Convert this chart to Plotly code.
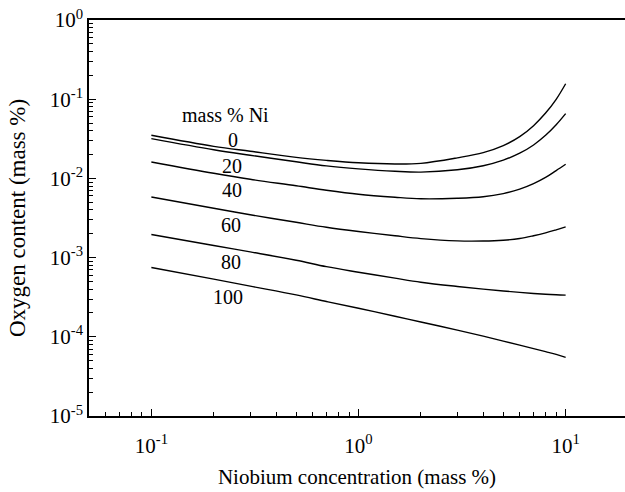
import numpy as np
import plotly.graph_objects as go

# Niobium concentration (mass %)
nb = [0.1, 0.2, 0.3, 0.5, 0.7, 1.0, 1.5, 2.0, 3.0, 4.0, 5.0, 6.0, 7.0, 8.0, 9.0, 10.0]

# Oxygen content (mass %) for each Ni content
o_ni0 = [0.0350, 0.0254, 0.0220, 0.01845, 0.0169, 0.01573, 0.0152, 0.0155, 0.01819, 0.02115, 0.02593,
         0.03367, 0.04634, 0.06683, 0.0997, 0.1568]
o_ni20 = [0.0318, 0.0230, 0.0196, 0.0162, 0.0144, 0.0132, 0.0123, 0.0120, 0.01284, 0.01446, 0.01702,
          0.02080, 0.02644, 0.03496, 0.04754, 0.06566]
o_ni40 = [0.0161, 0.0116, 0.00975, 0.00807, 0.00708, 0.0063, 0.00578, 0.00553, 0.00561, 0.00586, 0.00643,
          0.00731, 0.00858, 0.01027, 0.01254, 0.01507]
o_ni60 = [0.00582, 0.00420, 0.00348, 0.00279, 0.002415, 0.002133, 0.001884, 0.001737, 0.001625, 0.001620,
          0.001657, 0.001741, 0.001889, 0.002055, 0.002243, 0.00244]
o_ni80 = [0.00196, 0.00142, 0.00118, 0.000927, 0.000768, 0.000654, 0.000550, 0.000489, 0.000432, 0.000400,
          0.000379, 0.000364, 0.000352, 0.000344, 0.000339, 0.000336]
o_ni100 = [0.000750, 0.000534, 0.000436, 0.000338, 0.000279, 0.000229, 0.000182, 0.000154, 0.0001213,
           0.0001018, 0.0000883, 0.0000786, 0.0000710, 0.0000649, 0.0000600, 0.0000550]

series = [o_ni0, o_ni20, o_ni40, o_ni60, o_ni80, o_ni100]
ni_labels = ["0", "20", "40", "60", "80", "100"]

# label positions (data coordinates)
label_x = [0.247, 0.245, 0.245, 0.243, 0.243, 0.234]
label_y = [0.0302, 0.01422, 0.00708, 0.00256, 0.000883, 0.000319]

x_ticks = [0.1, 1, 10]
x_ticktext = ["10<sup>-1</sup>", "10<sup>0</sup>", "10<sup>1</sup>"]
y_ticks = [1e-5, 1e-4, 1e-3, 1e-2, 1e-1, 1]
y_ticktext = ["10<sup>-5</sup>", "10<sup>-4</sup>", "10<sup>-3</sup>", "10<sup>-2</sup>", "10<sup>-1</sup>", "10<sup>0</sup>"]

FONT = "Times New Roman, Liberation Serif, DejaVu Serif, serif"

fig = go.Figure()
for ys in series:
    fig.add_trace(go.Scatter(x=nb, y=ys, mode="lines", line=dict(color="black", width=1.4, shape="spline", smoothing=1.0),
                             showlegend=False, hoverinfo="skip"))

for t, xx, yy in zip(ni_labels, label_x, label_y):
    fig.add_annotation(x=np.log10(xx), y=np.log10(yy), text=t, showarrow=False,
                       font=dict(family=FONT, size=20, color="black"))
fig.add_annotation(x=np.log10(0.228), y=np.log10(0.0625), text="mass % Ni", showarrow=False,
                   font=dict(family=FONT, size=20, color="black"))

x_minor = [m * 10 ** e for e in (-2, -1, 0, 1) for m in range(2, 10) if 0.05 <= m * 10 ** e <= 20]
y_minor = [m * 10 ** e for e in (-5, -4, -3, -2, -1) for m in range(2, 10)]

fig.update_xaxes(type="log", range=[np.log10(0.05), 1.2865], tickmode="array", tickvals=x_ticks,
                 ticktext=x_ticktext, ticks="inside", ticklen=7, tickwidth=1.3, tickcolor="black",
                 showline=True, linecolor="black", linewidth=1.6, mirror=True, showgrid=False, zeroline=False,
                 automargin=False, ticklabelstandoff=10,
                 minor=dict(tickmode="array", tickvals=x_minor, ticks="inside", ticklen=4, tickwidth=1.1,
                            tickcolor="black", showgrid=False),
                 tickfont=dict(family=FONT, size=21, color="black"),
                 title=dict(text="Niobium concentration (mass %)", font=dict(family=FONT, size=21, color="black"),
                            standoff=12))
fig.update_yaxes(type="log", range=[-5, 0], tickmode="array", tickvals=y_ticks, ticktext=y_ticktext,
                 ticks="inside", ticklen=7, tickwidth=1.3, tickcolor="black",
                 showline=True, linecolor="black", linewidth=1.6, showgrid=False, zeroline=False,
                 automargin=False,
                 minor=dict(tickmode="array", tickvals=y_minor, ticks="inside", ticklen=4, tickwidth=1.1,
                            tickcolor="black", showgrid=False),
                 tickfont=dict(family=FONT, size=21, color="black"),
                 title=dict(text="Oxygen content (mass %)", font=dict(family=FONT, size=23, color="black"),
                            standoff=18))

fig.update_layout(width=625, height=492, margin=dict(l=89, r=0, t=20, b=76),
                  plot_bgcolor="white", paper_bgcolor="white", font=dict(family=FONT))

fig.write_html("out.html", config={"displayModeBar": False},
               post_script="document.body.style.margin='0';document.body.style.overflow='hidden';")
